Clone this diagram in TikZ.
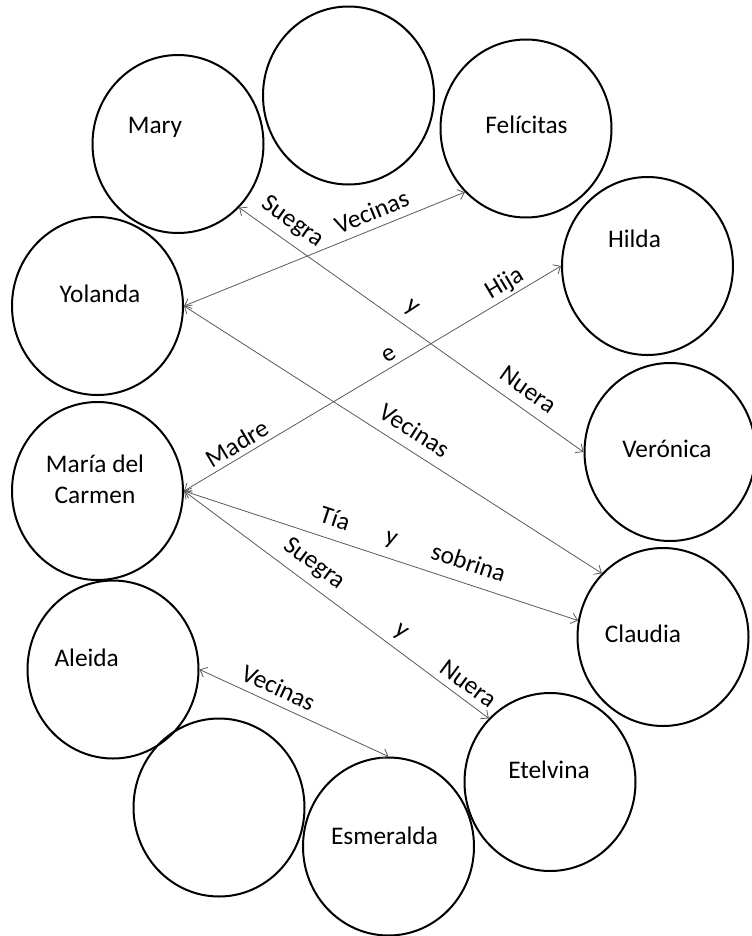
\documentclass[tikz,border=0pt]{standalone}
\usepackage{fontspec}
\setmainfont{Carlito}
\usetikzlibrary{arrows.meta,shapes.geometric}
\begin{document}
\begin{tikzpicture}[x=0.75pt,y=-0.75pt,
  person/.style={ellipse, draw=black, line width=1.5pt,
    minimum width=128.25pt, minimum height=133.5pt, inner sep=0pt},
  who/.style={anchor=base, inner sep=0pt, font=\fontsize{19pt}{23pt}\selectfont},
  rel/.style={draw=black!65, line width=0.6pt,
    {Straight Barb[length=4.5pt,width=8pt]}-{Straight Barb[length=4.5pt,width=8pt]}},
  tag/.style={sloped, above=#1, inner sep=0pt, text depth=0pt,
    font=\fontsize{19pt}{22pt}\selectfont},
  tag/.default=8pt
]
\useasboundingbox (0,0) rectangle (751,936);

% the circle of people
\node[person] (blankA)    at (348.5,95.5) {};
\node[person] (mary)      at (178,144) {};
\node[person] (felicitas) at (526,128.5) {};
\node[person] (yolanda)   at (97.5,306) {};
\node[person] (hilda)     at (647.5,266) {};
\node[person] (veronica)  at (670,452) {};
\node[person] (carmen)    at (97.5,491) {};
\node[person] (claudia)   at (663,637) {};
\node[person] (aleida)    at (113,669.5) {};
\node[person] (blankB)    at (219,807.5) {};
\node[person] (etelvina)  at (550,782) {};
\node[person] (esmeralda) at (388.5,846.5) {};

% names
\node[who] (tMary)      at (155,133)   {Mary};
\node[who] (tFelicitas) at (526.5,133) {Felícitas};
\node[who] (tYolanda)   at (100,302)   {Yolanda};
\node[who] (tHilda)     at (634.5,247) {Hilda};
\node[who] (tVeronica)  at (667,457)   {Verónica};
\node[who, align=center] (tCarmen) at (95,503) {María del\\Carmen};
\node[who] (tClaudia)   at (643,642)   {Claudia};
\node[who] (tAleida)    at (86.7,666)  {Aleida};
\node[who] (tEtelvina)  at (549,778)   {Etelvina};
\node[who] (tEsmeralda) at (384.5,844) {Esmeralda};

% relationships
\draw[rel] (mary.south east) -- (veronica.west)
  node[tag=9.4pt, pos=0.123] {Suegra}
  node[tag=9.4pt, pos=0.471] {y}
  node[tag=8pt,   pos=0.808] {Nuera};
\draw[rel] (yolanda.east) -- (felicitas.south west)
  node[tag=6pt, pos=0.691] {Vecinas};
\draw[rel] (yolanda.east) -- (claudia.north west)
  node[tag=8pt, pos=0.527] {Vecinas};
\draw[rel] (carmen.east) -- (hilda.west)
  node[tag=3.6pt, pos=0.159] {Madre}
  node[tag=3.6pt, pos=0.559] {e}
  node[tag=5pt,   pos=0.869] {Hija};
\draw[rel] (carmen.east) -- (claudia.169)
  node[tag=9.2pt, pos=0.367] {Tía}
  node[tag=10pt,  pos=0.51]  {y}
  node[tag=9pt,   pos=0.706] {sobrina};
\draw[rel] (carmen.east) -- (etelvina.north west)
  node[tag=9.5pt, pos=0.389] {Suegra}
  node[tag=8.5pt, pos=0.679] {y}
  node[tag=5.6pt, pos=0.903] {Nuera};
\draw[rel] (aleida.east) -- (esmeralda.north)
  node[tag=5.8pt, pos=0.381] {Vecinas};
\end{tikzpicture}
\end{document}
